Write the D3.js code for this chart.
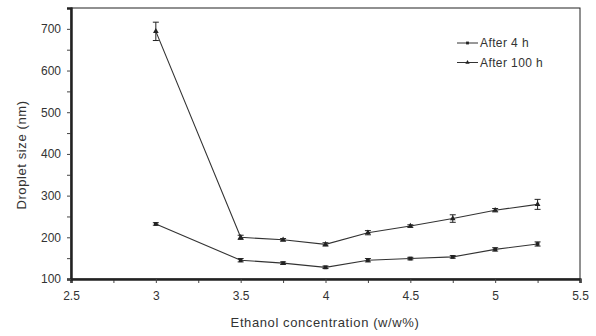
<!DOCTYPE html>
<html>
<head>
<meta charset="utf-8">
<script src="https://cdn.jsdelivr.net/npm/d3@7.9.0/dist/d3.min.js"></script>
<style>
  body { margin: 0; background: #fff; }
  text { font-family: "Liberation Sans", Arial, sans-serif; fill: #333; }
</style>
</head>
<body>
<div id="chart"></div>
<script>
// concentrations (w/w%)
const conc = [3, 3.5, 3.75, 4, 4.25, 4.5, 4.75, 5, 5.25];
// droplet size (nm)
const after4h = [232, 145, 138, 128, 145, 149, 153, 171, 184];
const after4hErr = [3, 4, 3, 3, 4, 3, 3, 4, 5];
const after100h = [694, 200, 194, 183, 211, 227, 245, 265, 279];
const after100hErr = [22, 5, 3, 4, 5, 3, 9, 4, 12];
const xTicks = [2.5, 3, 3.5, 4, 4.5, 5, 5.5];
const yTicks = [100, 200, 300, 400, 500, 600, 700];

const width = 596;
const height = 336;
const margin = { top: 8, right: 16, bottom: 57, left: 71 };

const svg = d3.select('#chart')
  .append('svg')
  .attr('width', width)
  .attr('height', height);

const xScale = d3.scaleLinear()
  .domain([2.5, 5.5])
  .range([margin.left, width - margin.right]);

const yScale = d3.scaleLinear()
  .domain([100, 750])
  .range([height - margin.bottom, margin.top]);

// frame
svg.append('rect')
  .attr('x', margin.left)
  .attr('y', margin.top)
  .attr('width', width - margin.left - margin.right)
  .attr('height', height - margin.top - margin.bottom)
  .attr('fill', 'none')
  .attr('stroke', '#222')
  .attr('stroke-width', 1);

// minor ticks
const xAxisMinor = d3.axisBottom(xScale)
  .tickValues(d3.range(2.75, 5.5, 0.5))
  .tickSize(4)
  .tickFormat('');
const yAxisMinor = d3.axisLeft(yScale)
  .tickValues(d3.range(150, 751, 100))
  .tickSize(4)
  .tickFormat('');

const xAxis = d3.axisBottom(xScale)
  .tickValues(xTicks)
  .tickSize(4)
  .tickPadding(8)
  .tickFormat(d3.format('~g'));
const yAxis = d3.axisLeft(yScale)
  .tickValues(yTicks)
  .tickSize(4)
  .tickPadding(6);

[xAxisMinor, xAxis].forEach(ax => {
  const g = svg.append('g')
    .attr('transform', `translate(0, ${height - margin.bottom})`)
    .call(ax);
  g.select('.domain').attr('stroke', '#222').attr('stroke-width', 2);
  g.selectAll('line').attr('stroke', '#444');
  g.selectAll('text').attr('font-size', 12).attr('fill', '#444');
});

[yAxisMinor, yAxis].forEach(ax => {
  const g = svg.append('g')
    .attr('transform', `translate(${margin.left}, 0)`)
    .call(ax);
  g.select('.domain').attr('stroke', '#222').attr('stroke-width', 2);
  g.selectAll('line').attr('stroke', '#444');
  g.selectAll('text').attr('font-size', 12).attr('fill', '#444');
});

// axis titles
svg.append('text')
  .attr('x', 325)
  .attr('y', 327)
  .attr('text-anchor', 'middle')
  .attr('font-size', 13)
  .attr('letter-spacing', 0.6)
  .attr('fill', '#444')
  .text('Ethanol concentration (w/w%)');

svg.append('text')
  .attr('transform', 'translate(26, 155) rotate(-90)')
  .attr('text-anchor', 'middle')
  .attr('font-size', 13)
  .attr('letter-spacing', 0.6)
  .attr('fill', '#444')
  .text('Droplet size (nm)');

const series = [
  { name: 'After 4 h', values: after4h, err: after4hErr, marker: d3.symbolSquare },
  { name: 'After 100 h', values: after100h, err: after100hErr, marker: d3.symbolTriangle }
];

const line = d3.line()
  .x((d, i) => xScale(conc[i]))
  .y(d => yScale(d));

series.forEach(s => {
  svg.append('path')
    .datum(s.values)
    .attr('d', line)
    .attr('fill', 'none')
    .attr('stroke', '#333')
    .attr('stroke-width', 1.1);

  // error bars
  const eb = svg.append('g').selectAll('g')
    .data(s.values)
    .join('g');
  eb.append('line')
    .attr('x1', (d, i) => xScale(conc[i]))
    .attr('x2', (d, i) => xScale(conc[i]))
    .attr('y1', (d, i) => yScale(d - s.err[i]))
    .attr('y2', (d, i) => yScale(d + s.err[i]))
    .attr('stroke', '#222');
  [-1, 1].forEach(sign => {
    eb.append('line')
      .attr('x1', (d, i) => xScale(conc[i]) - 3)
      .attr('x2', (d, i) => xScale(conc[i]) + 3)
      .attr('y1', (d, i) => yScale(d + sign * s.err[i]))
      .attr('y2', (d, i) => yScale(d + sign * s.err[i]))
      .attr('stroke', '#222');
  });

  svg.append('g').selectAll('path')
    .data(s.values)
    .join('path')
    .attr('transform', (d, i) => `translate(${xScale(conc[i])}, ${yScale(d)})`)
    .attr('d', d3.symbol().type(s.marker).size(14))
    .attr('fill', '#222');
});

// legend
const legend = svg.append('g').attr('transform', 'translate(457, 43)');
series.forEach((s, i) => {
  const row = legend.append('g').attr('transform', `translate(0, ${i * 19.5})`);
  row.append('line')
    .attr('x1', 0).attr('x2', 21)
    .attr('stroke', '#333');
  row.append('path')
    .attr('transform', 'translate(10.5, 0)')
    .attr('d', d3.symbol().type(s.marker).size(8))
    .attr('fill', '#222');
  row.append('text')
    .attr('x', 23)
    .attr('y', 4)
    .attr('font-size', 12)
    .attr('letter-spacing', 0.4)
    .attr('fill', '#444')
    .text(s.name);
});
</script>
</body>
</html>
